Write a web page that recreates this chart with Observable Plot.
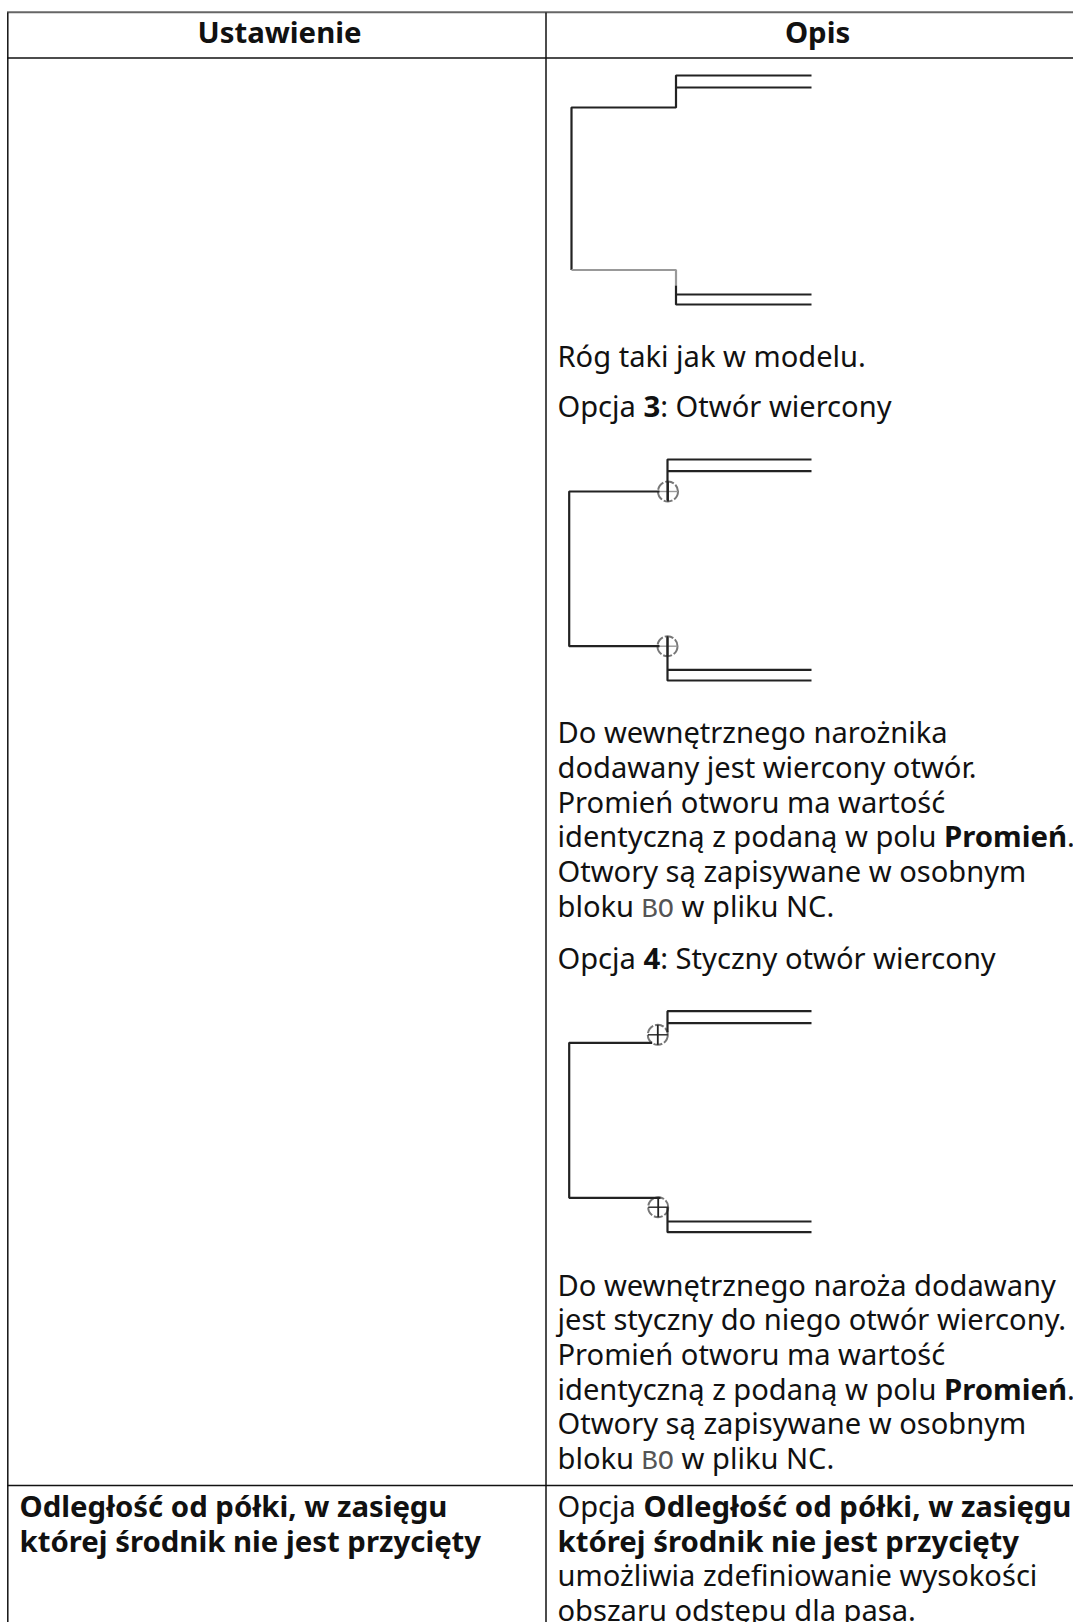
<!DOCTYPE html>
<html lang="pl">
<head>
<meta charset="utf-8">
<style>html,body{margin:0;padding:0;background:#fff;overflow:hidden}svg{display:block}</style>
<script src="https://cdn.jsdelivr.net/npm/d3@7"></script>
<script src="https://cdn.jsdelivr.net/npm/@observablehq/plot@0.6"></script>
</head>
<body>
<script>
const W = 1073, H = 1622;
const FONT = "Noto Sans", MONO = "Liberation Mono";
const SIZE = 29.1, BOLD_SIZE = 29.35, MONO_SIZE = 27;

// Table rules: [x1, y1, x2, y2]
const ruleTop = [[6.5, 11.7, 1073, 11.7]];
const rulesTable = [
  [7.3, 12, 7.3, 1622], [545.5, 12, 545.5, 1622],
  [6.5, 57.5, 1073, 57.5], [6.5, 1485, 1073, 1485]
];

// Header labels
const headers = [["Ustawienie", 279, 42], ["Opis", 817, 42]];

// Text lines: [baseline, left, runs]; run = [text, kind]
const r = "r", b = "b", m = "m";
const textLines = [
  [366.5, 557, [["Róg taki jak w modelu.", r]]],
  [416, 557, [["Opcja ", r], ["3", b], [": Otwór wiercony", r]]],
  [742.7, 557, [["Do wewnętrznego narożnika", r]]],
  [777.5, 557, [["dodawany jest wiercony otwór.", r]]],
  [812.2, 557, [["Promień otworu ma wartość", r]]],
  [846.8, 557, [["identyczną z podaną w polu ", r], ["Promień", b], [".", r]]],
  [881.5, 557, [["Otwory są zapisywane w osobnym", r]]],
  [916.5, 557, [["bloku ", r], ["BO", m], [" w pliku NC.", r]]],
  [968, 557, [["Opcja ", r], ["4", b], [": Styczny otwór wiercony", r]]],
  [1295, 557, [["Do wewnętrznego naroża dodawany", r]]],
  [1329.7, 557, [["jest styczny do niego otwór wiercony.", r]]],
  [1364.3, 557, [["Promień otworu ma wartość", r]]],
  [1399, 557, [["identyczną z podaną w polu ", r], ["Promień", b], [".", r]]],
  [1433.7, 557, [["Otwory są zapisywane w osobnym", r]]],
  [1468.5, 557, [["bloku ", r], ["BO", m], [" w pliku NC.", r]]],
  [1516, 19, [["Odległość od półki, w zasięgu", b]]],
  [1551, 19, [["której środnik nie jest przycięty", b]]],
  [1516, 557, [["Opcja ", r], ["Odległość od półki, w zasięgu", b]]],
  [1551, 557, [["której środnik nie jest przycięty", b]]],
  [1585.5, 557, [["umożliwia zdefiniowanie wysokości", r]]],
  [1620, 557, [["obszaru odstępu dla pasa.", r]]]
];

// Diagram polylines: [color, [[x, y], ...]]
const dark = "#222", grey = "#999";
const polylines = [
  // Option 2 corner
  [dark, [[811, 75], [675.5, 75], [675.5, 107], [571, 107], [571, 269.5]]],
  [dark, [[811, 87], [675.5, 87]]],
  [grey, [[571, 269.5], [675.5, 269.5], [675.5, 285]]],
  [dark, [[675.5, 285], [675.5, 304], [811, 304]]],
  [dark, [[811, 294], [675.5, 294]]],
  // Option 3 drilled hole
  [dark, [[811, 459], [667, 459], [667, 500]]],
  [dark, [[811, 470.7], [667, 470.7]]],
  [dark, [[659, 491], [568.7, 491], [568.7, 645.7], [659, 645.7]]],
  [dark, [[667, 636.7], [667, 680], [811, 680]]],
  [dark, [[811, 669.3], [667, 669.3]]],
  // Option 4 tangent hole
  [dark, [[811, 1010.7], [667, 1010.7], [667, 1031.7]]],
  [dark, [[811, 1022.7], [667, 1022.7]]],
  [dark, [[651.7, 1042.3], [568.7, 1042.3], [568.7, 1197.3], [660, 1197.3]]],
  [dark, [[667, 1206.7], [667, 1231.7], [811, 1231.7]]],
  [dark, [[811, 1221], [667, 1221]]]
];

// Hole centres and crosshair arm colours
const holes = [
  {x: 667.5, y: 491, h: grey, v: dark},
  {x: 667, y: 645.7, h: grey, v: dark},
  {x: 657.3, y: 1034.3, h: dark, v: dark},
  {x: 657.7, y: 1206.7, h: dark, v: dark}
];
const HOLE_R = 10;

// Build mark tables
const ctx = document.createElement("canvas").getContext("2d");
const fontOf = k => k === b ? `700 ${BOLD_SIZE}px "${FONT}"` : k === m ? `400 ${MONO_SIZE}px "${MONO}"` : `400 ${SIZE}px "${FONT}"`;
const runs = [];
for (const [y, left, parts] of textLines) {
  let x = left;
  for (const [text, kind] of parts) {
    runs.push({text, kind, x, y});
    ctx.font = fontOf(kind);
    x += ctx.measureText(text).width;
  }
}
const segs = polylines.flatMap(([stroke, pts], id) => pts.map(([x, y]) => ({id, stroke, x, y})));
const toRule = ([x1, y1, x2, y2]) => ({x1, y1, x2, y2});

const chart = Plot.plot({
  width: W, height: H,
  margin: 0,
  x: {domain: [0, W], range: [0, W], axis: null},
  y: {domain: [0, H], range: [0, H], axis: null},
  marks: [
    Plot.link(ruleTop.map(toRule), {x1: "x1", y1: "y1", x2: "x2", y2: "y2", stroke: "#666", strokeWidth: 2}),
    Plot.link(rulesTable.map(toRule), {x1: "x1", y1: "y1", x2: "x2", y2: "y2", stroke: "#111", strokeWidth: 1.5}),
    Plot.dot(holes, {x: "x", y: "y", r: HOLE_R, stroke: "#777", strokeWidth: 2, strokeDasharray: "9 2"}),
    Plot.link(holes, {x1: d => d.x - HOLE_R, x2: d => d.x + HOLE_R, y1: "y", y2: "y", stroke: "h", strokeWidth: 1.4}),
    Plot.link(holes, {x1: "x", x2: "x", y1: d => d.y - HOLE_R, y2: d => d.y + HOLE_R, stroke: "v", strokeWidth: 1.8}),
    Plot.line(segs, {x: "x", y: "y", z: "id", stroke: "stroke", strokeWidth: 2.2, curve: "linear", strokeLinejoin: "miter", strokeLinecap: "butt"}),
    Plot.text(headers, {x: d => d[1], y: d => d[2], text: d => d[0], textAnchor: "middle", lineAnchor: "bottom", fontFamily: FONT, fontWeight: 700, fontSize: BOLD_SIZE, fill: "#111"}),
    Plot.text(runs.filter(d => d.kind === r), {x: "x", y: "y", text: "text", textAnchor: "start", lineAnchor: "bottom", fontFamily: FONT, fontSize: SIZE, fill: "#111"}),
    Plot.text(runs.filter(d => d.kind === b), {x: "x", y: "y", text: "text", textAnchor: "start", lineAnchor: "bottom", fontFamily: FONT, fontWeight: 700, fontSize: BOLD_SIZE, fill: "#111"}),
    Plot.text(runs.filter(d => d.kind === m), {x: "x", y: "y", text: "text", textAnchor: "start", lineAnchor: "bottom", fontFamily: MONO, fontSize: MONO_SIZE, fill: "#555"})
  ]
});
chart.style.background = "#fff";
document.body.appendChild(chart);
</script>
</body>
</html>
